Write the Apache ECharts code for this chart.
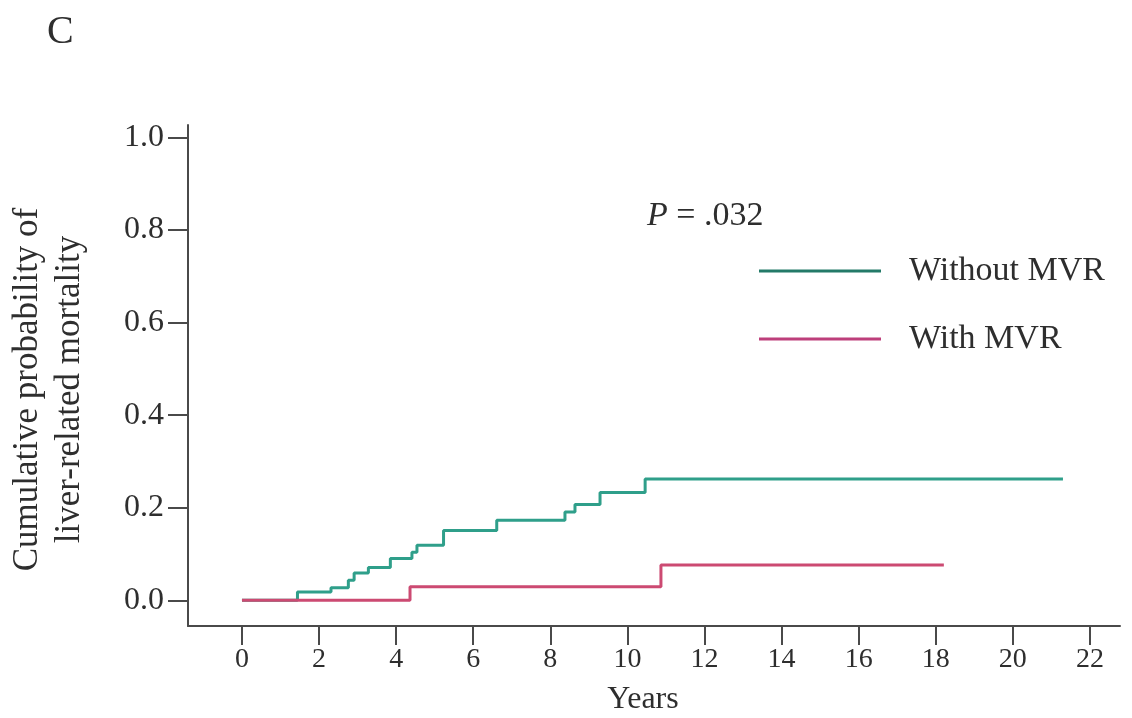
<!DOCTYPE html>
<html>
<head>
<meta charset="utf-8">
<script src="https://cdn.jsdelivr.net/npm/echarts@6/dist/echarts.min.js"></script>
<style>
  html, body { margin: 0; padding: 0; background: #ffffff; }
  #chart { width: 1132px; height: 718px; }
</style>
</head>
<body>
<div id="chart"></div>
<script>
// Cumulative incidence of liver-related mortality (step curves)
const withoutTimes  = [0, 1.44, 2.31, 2.76, 2.91, 3.28, 3.85, 4.41, 4.54, 5.23, 6.61, 8.38, 8.64, 9.29, 10.46, 21.30];
const withoutValues = [0, 0.018, 0.027, 0.043, 0.059, 0.071, 0.090, 0.104, 0.119, 0.151, 0.173, 0.191, 0.207, 0.233, 0.262, 0.262];

const withTimes  = [0, 4.36, 10.87, 18.21];
const withValues = [0, 0.029, 0.076, 0.076];

const xTicks = [0, 2, 4, 6, 8, 10, 12, 14, 16, 18, 20, 22];
const yTicks = [0, 0.2, 0.4, 0.6, 0.8, 1.0];

const seriesNames = ['Without MVR', 'With MVR'];
const lineColors = ['#2f9f8a', '#cc4a72'];
const legendColors = ['#237a68', '#bd3f7b'];

const zip = (xs, ys) => xs.map((x, i) => [x, ys[i]]);

const FONT = '"Liberation Serif", "DejaVu Serif", serif';
const INK = '#2e2e2e';
const AXIS = '#4a4a4a';

const chart = echarts.init(document.getElementById('chart'), null, { renderer: 'canvas' });

chart.setOption({
  backgroundColor: '#ffffff',
  animation: false,
  grid: { left: 188, right: 12, top: 125, bottom: 92, containLabel: false, outerBoundsMode: 'none' },
  legend: {
    orient: 'vertical',
    left: 759,
    top: 254,
    padding: 0,
    itemGap: 34,
    itemWidth: 122,
    itemHeight: 3,
    icon: 'rect',
    selectedMode: false,
    textStyle: { fontFamily: FONT, fontSize: 34, color: INK, padding: [0, 0, 0, 23] },
    data: seriesNames.map((n, i) => ({ name: n, itemStyle: { color: legendColors[i] } }))
  },
  xAxis: {
    type: 'value',
    min: -1.40,
    max: 22.78,
    name: 'Years',
    nameLocation: 'middle',
    nameGap: 58,
    nameTextStyle: { fontFamily: FONT, fontSize: 32, color: INK, padding: [0, 22, 0, 0] },
    axisLine: { show: true, onZero: false, lineStyle: { color: AXIS, width: 2 } },
    axisTick: { show: true, length: 19, customValues: xTicks, lineStyle: { color: AXIS, width: 2 } },
    axisLabel: {
      show: true, customValues: xTicks, margin: 20,
      fontFamily: FONT, fontSize: 28, color: INK
    },
    splitLine: { show: false }
  },
  yAxis: {
    type: 'value',
    min: -0.0556,
    max: 1.027,
    name: 'Cumulative probability of\nliver-related mortality',
    nameLocation: 'middle',
    nameGap: 97,
    nameRotate: 90,
    nameTextStyle: { fontFamily: FONT, fontSize: 35, lineHeight: 42, color: INK, padding: [0, 0, 0, -28] },
    axisLine: { show: true, onZero: false, lineStyle: { color: AXIS, width: 2 } },
    axisTick: { show: true, length: 20, customValues: yTicks, lineStyle: { color: AXIS, width: 2 } },
    axisLabel: {
      show: true, customValues: yTicks, margin: 24,
      fontFamily: FONT, fontSize: 32, color: INK,
      formatter: v => v.toFixed(1)
    },
    splitLine: { show: false }
  },
  graphic: [
    {
      type: 'text', left: 47, top: 12,
      style: { text: 'C', font: '40px ' + FONT, fill: INK }
    },
    {
      type: 'text', left: 647, top: 199,
      style: {
        text: '{i|P}{n| = .032}',
        rich: {
          i: { fontFamily: FONT, fontSize: 34, fontStyle: 'italic', fill: INK },
          n: { fontFamily: FONT, fontSize: 34, fill: INK }
        }
      }
    }
  ],
  series: [
    {
      name: seriesNames[0], type: 'line', step: 'end', symbol: 'none',
      data: zip(withoutTimes, withoutValues),
      lineStyle: { color: lineColors[0], width: 3 },
      itemStyle: { color: lineColors[0] },
      z: 2
    },
    {
      // drawn above the other curve so the shared zero segment shows this colour
      name: seriesNames[1], type: 'line', step: 'end', symbol: 'none',
      data: zip(withTimes, withValues),
      lineStyle: { color: lineColors[1], width: 3 },
      itemStyle: { color: lineColors[1] },
      z: 3
    }
  ]
});
</script>
</body>
</html>
